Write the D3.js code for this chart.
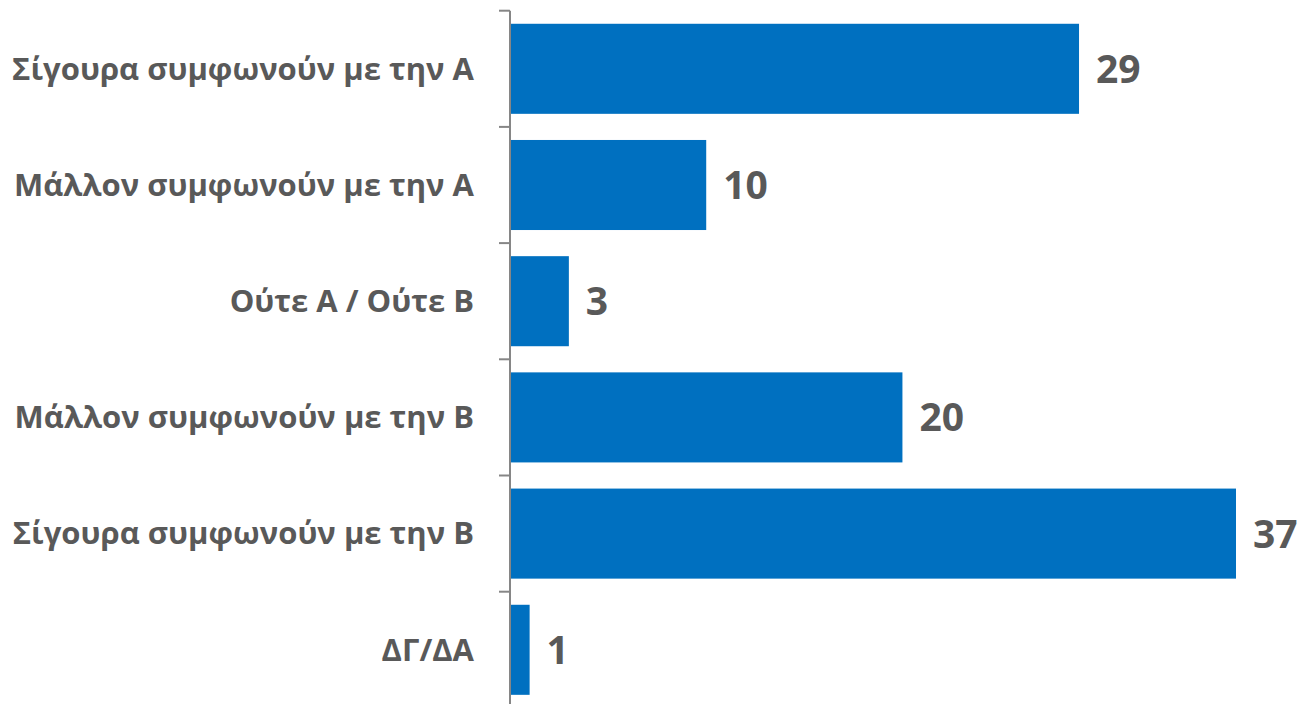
<!DOCTYPE html>
<html>
<head>
<meta charset="utf-8">
<script src="https://cdn.jsdelivr.net/npm/d3@7"></script>
<style>
  html, body { margin: 0; padding: 0; background: #ffffff; }
  svg { display: block; }
</style>
</head>
<body>
<svg id="chart" width="1310" height="704"></svg>
<script>
const categories = [
  "Σίγουρα συμφωνούν με την Α",
  "Μάλλον συμφωνούν με την Α",
  "Ούτε Α / Ούτε Β",
  "Μάλλον συμφωνούν με την Β",
  "Σίγουρα συμφωνούν με την Β",
  "ΔΓ/ΔΑ"
];
const values = [29, 10, 3, 20, 37, 1];

const svg = d3.select("#chart");
const axisX = 510;
const plotTop = 10.7;
const step = 116.2;

const x = d3.scaleLinear().domain([0, 37]).range([axisX, 1236]);
const y = d3.scaleBand().domain(categories)
  .range([plotTop, plotTop + step * categories.length])
  .paddingInner(0.225).paddingOuter(0.1125);

// bars
svg.append("g").selectAll("rect")
  .data(categories)
  .join("rect")
  .attr("x", x(0))
  .attr("y", d => y(d))
  .attr("width", (d, i) => x(values[i]) - x(0))
  .attr("height", y.bandwidth())
  .attr("fill", "#0070C0");

// axis line + ticks at band boundaries
const g = svg.append("g");
g.append("line")
  .attr("x1", axisX).attr("x2", axisX)
  .attr("y1", plotTop).attr("y2", 704)
  .attr("stroke", "#868686").attr("stroke-width", 2);
const bounds = d3.range(categories.length).map(i => y.range()[0] + i * y.step());
g.selectAll("line.tick")
  .data(bounds)
  .join("line")
  .attr("class", "tick")
  .attr("x1", axisX - 11).attr("x2", axisX)
  .attr("y1", d => d).attr("y2", d => d)
  .attr("stroke", "#868686").attr("stroke-width", 2);

// category labels
svg.append("g").selectAll("text")
  .data(categories)
  .join("text")
  .attr("x", 474)
  .attr("y", d => y(d) + y.bandwidth() / 2)
  .attr("dy", "0.35em")
  .attr("text-anchor", "end")
  .attr("font-family", "'Open Sans', sans-serif")
  .attr("font-weight", "bold")
  .attr("font-size", 31)
  .attr("fill", "#595959")
  .text(d => d);

// value labels
svg.append("g").selectAll("text")
  .data(categories)
  .join("text")
  .attr("x", (d, i) => x(values[i]) + 17)
  .attr("y", d => y(d) + y.bandwidth() / 2)
  .attr("dy", "0.36em")
  .attr("font-family", "'Open Sans', sans-serif")
  .attr("font-weight", "bold")
  .attr("font-size", 39)
  .attr("fill", "#595959")
  .text((d, i) => values[i]);
</script>
</body>
</html>
